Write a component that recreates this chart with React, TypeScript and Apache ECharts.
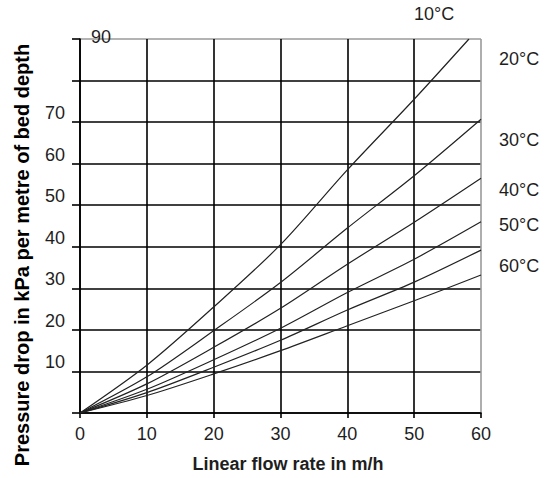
import React, { useEffect, useRef } from 'react';
import * as echarts from 'echarts';

// ---- data ----
const flowRates = [0, 10, 20, 30, 40, 50, 60];
const flowRates10C = [0, 10, 20, 30, 40, 50, 58.2];
const drop10C = [0, 11.5, 25.5, 40.5, 58.5, 75.5, 90];
const drop20C = [0, 8.7, 19.8, 31.4, 44.5, 57.1, 70.7];
const drop30C = [0, 7.0, 15.8, 25.2, 35.8, 45.9, 56.5];
const drop40C = [0, 5.7, 12.8, 20.4, 29.0, 37.0, 46.0];
const drop50C = [0, 4.9, 11.0, 17.5, 24.8, 31.5, 39.2];
const drop60C = [0, 4.2, 9.4, 15.0, 21.0, 27.0, 33.2];
const temperatureLabels = ['10°C', '20°C', '30°C', '40°C', '50°C', '60°C'];
const yOutsideLabels = [10, 20, 30, 40, 50, 60, 70];
const yInsideLabels = [90];
const xTitle = 'Linear flow rate in m/h';
const yTitle = 'Pressure drop in kPa per metre of bed depth';

const FONT = '"Liberation Sans", Arial, sans-serif';
const TXT = '#1e1e1e';

export default function App() {
  const ref = useRef<HTMLDivElement>(null);
  useEffect(() => {
    if (!ref.current) return;
    const chart = echarts.init(ref.current, null, { renderer: 'svg' });

    const seriesX = [flowRates10C, flowRates, flowRates, flowRates, flowRates, flowRates];
    const seriesY = [drop10C, drop20C, drop30C, drop40C, drop50C, drop60C];

    const labelPos = [
      [414, 14],
      [499, 59],
      [499, 140],
      [499, 190],
      [499, 225],
      [499, 266],
    ];

    const xSplitColors = ['#000', '#000', '#000', '#000', '#000', '#000', '#9a9a9a'];
    const ySplitColors = ['#000', '#000', '#000', '#000', '#000', '#000', '#000', '#000', '#000', '#9a9a9a'];

    chart.setOption({
      animation: false,
      backgroundColor: '#fff',
      grid: { left: 80, right: 65, top: 39, bottom: 64, containLabel: false },
      xAxis: {
        type: 'value',
        min: 0,
        max: 60,
        interval: 10,
        name: xTitle,
        nameLocation: 'middle',
        nameGap: 42,
        nameTextStyle: {
          fontFamily: FONT,
          fontSize: 18,
          fontWeight: 'bold',
          color: TXT,
          padding: [0, 0, 0, 15],
        },
        axisLine: { show: true, lineStyle: { color: '#000', width: 1.6 } },
        axisTick: { show: true, length: 5, lineStyle: { color: '#000', width: 1.6 } },
        axisLabel: {
          margin: 12,
          fontFamily: FONT,
          fontSize: 18,
          color: TXT,
        },
        splitLine: { show: true, lineStyle: { color: xSplitColors, width: 1.6 } },
      },
      yAxis: [
        {
          type: 'value',
          min: 0,
          max: 90,
          interval: 10,
          axisLine: { show: true, lineStyle: { color: '#000', width: 1.6 } },
          axisTick: { show: true, length: 8, lineStyle: { color: '#000', width: 1.6 } },
          axisLabel: {
            margin: 15,
            fontFamily: FONT,
            fontSize: 18,
            color: TXT,
            formatter: (v: number) => (yOutsideLabels.includes(v) ? `{a|${v}}` : ''),
            rich: {
              a: { fontFamily: FONT, fontSize: 18, color: TXT, padding: [0, 0, 18, 0] },
            },
          },
          splitLine: { show: true, lineStyle: { color: ySplitColors, width: 1.6 } },
        },
        {
          type: 'value',
          min: 0,
          max: 90,
          interval: 10,
          position: 'left',
          axisLine: { show: false },
          axisTick: { show: false },
          splitLine: { show: false },
          axisLabel: {
            inside: true,
            margin: 11,
            fontFamily: FONT,
            fontSize: 18,
            color: TXT,
            formatter: (v: number) => (yInsideLabels.includes(v) ? `{a|${v}}` : ''),
            rich: {
              a: { fontFamily: FONT, fontSize: 18, color: TXT, padding: [0, 0, 4, 0] },
            },
          },
        },
      ],
      series: temperatureLabels.map((name, i) => ({
        name,
        type: 'line',
        yAxisIndex: 0,
        data: seriesX[i].map((x, j) => [x, seriesY[i][j]]),
        showSymbol: false,
        smooth: 0.3,
        lineStyle: { color: '#222', width: 1.2 },
        z: 3,
      })),
      graphic: [
        ...temperatureLabels.map((t, i) => ({
          type: 'text',
          x: labelPos[i][0],
          y: labelPos[i][1],
          style: {
            text: t,
            fontFamily: FONT,
            fontSize: 18,
            fill: TXT,
            align: 'left',
            verticalAlign: 'middle',
          },
        })),
        {
          type: 'text',
          x: 22,
          y: 255,
          rotation: Math.PI / 2,
          style: {
            text: yTitle,
            fontFamily: FONT,
            fontSize: 20,
            fontWeight: 'bold',
            fill: '#000',
            align: 'center',
            verticalAlign: 'middle',
          },
        },
      ],
    });
    return () => chart.dispose();
  }, []);

  return (
    <div
      ref={ref}
      style={{ position: 'fixed', left: 0, top: 0, width: 546, height: 478, background: '#fff' }}
    />
  );
}
